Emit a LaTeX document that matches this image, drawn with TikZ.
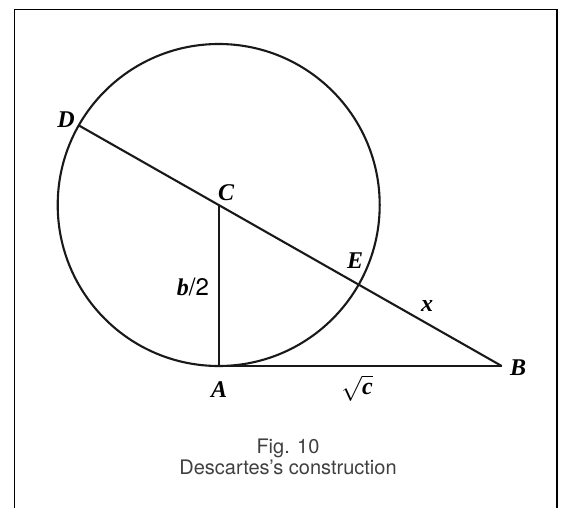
\documentclass[tikz,border=0pt]{standalone}
\usepackage{fontspec}
\setmainfont{Liberation Serif}
\setsansfont{TeX Gyre Heros}
\usepackage{tikz}
\usetikzlibrary{calc}

\begin{document}
\begin{tikzpicture}[x=1pt, y=-1pt,
  geo/.style={line width=2.1pt, black!90},
  lbl/.style={inner sep=0pt, font=\fontsize{24}{28}\selectfont\bfseries\itshape},
  caption/.style={align=center, text=black!75, font=\sffamily\fontsize{20}{21}\selectfont}
]
\useasboundingbox (0,0) rectangle (561,508);
\draw[line width=1.3pt] (14.5,508) -- (14.5,9.5) -- (557,9.5) -- (557,508);

\coordinate (C) at (218.7,205);
\coordinate (A) at (218.7,366);
\coordinate (B) at (501.7,366);
\coordinate (E) at ($(C)!161pt!(B)$);
\coordinate (D) at ($(C)!-161pt!(B)$);

\draw[geo] (C) circle (161);
\draw[geo] (D) -- (B);
\draw[geo] (C) -- (A) -- (B);

\node[lbl] (labD) at (66,120)   {D};
\node[lbl] (labC) at (226,193)  {C};
\node[lbl] (labE) at (355,261)  {E};
\node[lbl] (labx) at (427,306)  {x};
\node[lbl] (labA) at (219,390)  {A};
\node[lbl] (labB) at (518,368)  {B};
\node[lbl] (labb) at (193,287)  {b{\normalfont\sffamily/2}};
\node[lbl] (labc) at (357,388)  {$\sqrt{\textbf{\textit{c}}}$};

\node[caption] (cap) at (288,457) {Fig. 10\\Descartes’s construction};
\end{tikzpicture}
\end{document}
